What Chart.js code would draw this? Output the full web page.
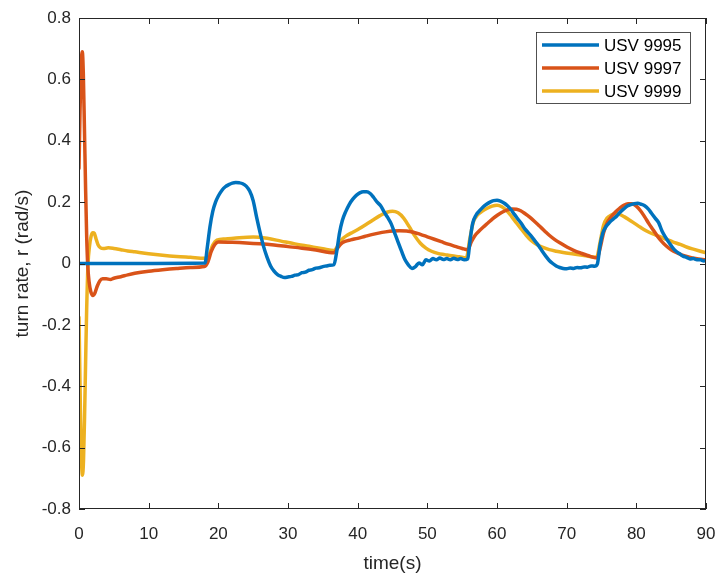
<!DOCTYPE html>
<html>
<head>
<meta charset="utf-8">
<title>turn rate</title>
<script src="https://cdn.jsdelivr.net/npm/chart.js@4.4.1/dist/chart.umd.min.js"></script>
<style>
  html, body { margin: 0; padding: 0; background: #fff; }
  #wrap { width: 717px; height: 575px; }
</style>
</head>
<body>
<div id="wrap"><canvas id="turnChart" width="717" height="575"></canvas></div>
<script>
// --- Data ---
const seriesNames = ['USV 9995', 'USV 9997', 'USV 9999'];
const seriesColors = ['#0072BD', '#D95319', '#EDB120'];
const xTicks = [0, 10, 20, 30, 40, 50, 60, 70, 80, 90];
const yTicks = [-0.8, -0.6, -0.4, -0.2, 0, 0.2, 0.4, 0.6, 0.8];

const time9995 = [
  0, 18.1, 18.4, 18.8, 19.2, 19.6, 20, 20.5, 21, 21.5,
  22, 22.5, 23, 23.5, 24, 24.5, 25, 25.5, 26, 26.5,
  27, 27.5, 28, 28.5, 29, 29.5, 30, 30.5, 31, 31.5,
  32, 32.5, 33, 33.5, 34, 34.5, 35, 35.5, 36, 36.6,
  37, 37.4, 37.8, 38.3, 38.8, 39.3, 39.8, 40.3, 40.8, 41.3,
  41.8, 42.3, 42.8, 43.3, 43.8, 44.3, 44.8, 45.3, 45.8, 46.3,
  46.8, 47.3, 47.8, 48.3, 48.8, 49.3, 49.8, 50.3, 50.8, 51.3,
  51.8, 52.3, 52.8, 53.3, 53.8, 54.3, 54.8, 55.3, 55.8, 56.1,
  56.5, 57, 57.5, 58, 58.5, 59, 59.5, 60, 60.5, 61,
  61.5, 62, 62.5, 63, 63.5, 64, 64.5, 65, 65.5, 66,
  66.5, 67, 67.5, 68, 68.5, 69, 69.5, 70, 70.5, 71,
  71.5, 72, 72.5, 73, 73.5, 74, 74.4, 74.8, 75.2, 75.7,
  76.2, 76.7, 77.2, 77.7, 78.2, 78.7, 79.2, 79.7, 80.2, 80.7,
  81.2, 81.7, 82.2, 82.7, 83.2, 83.7, 84.2, 84.7, 85.2, 85.7,
  86.2, 86.7, 87.2, 87.7, 88.2, 88.7, 89.2, 89.7, 90
];
const rate9995 = [
  0, 0.002, 0.05, 0.12, 0.17, 0.2, 0.22, 0.238, 0.25, 0.257,
  0.262, 0.264, 0.263, 0.26, 0.252, 0.236, 0.205, 0.15, 0.1, 0.055,
  0.02, -0.008, -0.025, -0.036, -0.042, -0.046, -0.044, -0.042, -0.038, -0.036,
  -0.03, -0.028, -0.022, -0.02, -0.015, -0.014, -0.01, -0.008, -0.006, -0.004,
  0.04, 0.1, 0.14, 0.17, 0.193, 0.21, 0.222, 0.23, 0.234, 0.234,
  0.228, 0.215, 0.2, 0.188, 0.168, 0.15, 0.13, 0.1, 0.07, 0.04,
  0.012, -0.005, -0.016, -0.01, 0.002, -0.004, 0.012, 0.008, 0.016, 0.012,
  0.018, 0.013, 0.016, 0.012, 0.017, 0.013, 0.016, 0.012, 0.015, 0.07,
  0.13, 0.158, 0.172, 0.184, 0.193, 0.2, 0.205, 0.206, 0.203, 0.197,
  0.188, 0.176, 0.16, 0.145, 0.13, 0.113, 0.1, 0.087, 0.072, 0.057,
  0.04, 0.024, 0.01, 0.0, -0.008, -0.013, -0.016, -0.017, -0.015, -0.016,
  -0.013, -0.014, -0.011, -0.012, -0.008, -0.009, -0.002, 0.06, 0.1, 0.122,
  0.135, 0.145, 0.155, 0.168, 0.178, 0.187, 0.192, 0.195, 0.196, 0.193,
  0.188, 0.178, 0.163, 0.148, 0.133, 0.105, 0.085, 0.068, 0.052, 0.04,
  0.032, 0.024, 0.02, 0.015, 0.016, 0.012, 0.012, 0.008, 0.01
];

const time9997 = [
  0, 0.15, 0.3, 0.47, 0.62, 0.78, 0.95, 1.1, 1.25, 1.45,
  1.7, 2.0, 2.3, 2.6, 3.0, 3.4, 3.9, 4.5, 5, 6,
  7, 8, 10, 12, 14, 16, 18, 18.5, 19, 19.5,
  20, 22, 24, 26, 28, 30, 32, 34, 36.6, 37.1,
  37.6, 38.2, 39, 40, 41, 42, 43, 44, 45, 46,
  47, 48, 49, 50, 51, 52, 53, 54, 55, 55.8,
  56.3, 56.8, 57.4, 58, 58.7, 59.4, 60.1, 60.8, 61.5, 62.2,
  62.8, 63.4, 64, 64.7, 65.4, 66.1, 66.8, 67.5, 68.3, 69.2,
  70.1, 71, 72, 73, 74.4, 74.8, 75.3, 75.8, 76.4, 77,
  77.6, 78.2, 78.8, 79.4, 80, 80.6, 81.2, 81.8, 82.4, 83,
  83.6, 84.3, 85, 85.8, 86.6, 87.5, 88.5, 90
];
const rate9997 = [
  0.31, 0.5, 0.64, 0.69, 0.62, 0.44, 0.24, 0.09, -0.005, -0.06,
  -0.092, -0.104, -0.095, -0.075, -0.056, -0.05, -0.05, -0.052, -0.048, -0.043,
  -0.037, -0.032, -0.025, -0.02, -0.016, -0.013, -0.01, 0.005, 0.04, 0.062,
  0.07, 0.069, 0.067, 0.064, 0.06, 0.055, 0.05, 0.044, 0.035, 0.05,
  0.064, 0.072, 0.077, 0.082, 0.088, 0.094, 0.099, 0.103, 0.106, 0.107,
  0.106, 0.102, 0.095, 0.087, 0.079, 0.071, 0.063, 0.056, 0.049, 0.045,
  0.07, 0.09, 0.105, 0.118, 0.132, 0.146, 0.158, 0.168, 0.175, 0.178,
  0.177, 0.172, 0.163, 0.151, 0.137, 0.122, 0.107, 0.092, 0.078, 0.065,
  0.053, 0.043, 0.034, 0.026, 0.018, 0.05, 0.1, 0.132, 0.152, 0.168,
  0.18, 0.19, 0.195, 0.195, 0.187, 0.172, 0.152, 0.13, 0.11, 0.09,
  0.073, 0.057, 0.045, 0.035, 0.027, 0.021, 0.016, 0.012
];

const time9999 = [
  0, 0.15, 0.3, 0.5, 0.65, 0.8, 0.95, 1.1, 1.3, 1.5,
  1.75, 2.0, 2.2, 2.45, 2.75, 3.1, 3.5, 4.2, 5, 6,
  7, 8, 10, 12, 14, 16, 18, 18.6, 19.2, 19.8,
  21, 23, 25, 27, 29, 31, 33, 35, 36.6, 37.2,
  37.8, 38.5, 39.3, 40.2, 41.2, 42.2, 43.2, 44.2, 45, 45.8,
  46.6, 47.4, 48.2, 49, 49.8, 50.6, 51.5, 52.5, 53.5, 54.6,
  55.6, 56.1, 56.6, 57.2, 57.9, 58.6, 59.3, 60, 60.7, 61.4,
  62.1, 62.8, 63.5, 64.2, 64.9, 65.7, 66.5, 67.5, 68.5, 69.5,
  71, 72.5, 74.3, 74.8, 75.3, 75.8, 76.4, 77, 77.6, 78.3,
  79, 79.8, 80.6, 81.4, 82.3, 83.3, 84.3, 85.3, 86.3, 87.3,
  88.3, 89.2, 90
];
const rate9999 = [
  -0.175, -0.4, -0.6, -0.69, -0.64, -0.5, -0.32, -0.15, 0.0, 0.055,
  0.09, 0.1, 0.098, 0.08, 0.06, 0.051, 0.049, 0.051, 0.049, 0.045,
  0.041, 0.038, 0.032, 0.027, 0.023, 0.02, 0.017, 0.025, 0.06, 0.076,
  0.08, 0.084, 0.086, 0.082, 0.073, 0.064, 0.056, 0.048, 0.042, 0.06,
  0.08, 0.092, 0.102, 0.113, 0.127, 0.142, 0.156, 0.167, 0.17, 0.165,
  0.148, 0.12, 0.09, 0.066, 0.05, 0.04, 0.033, 0.029, 0.025, 0.022,
  0.019, 0.08, 0.135, 0.158, 0.171, 0.18, 0.187, 0.19, 0.185, 0.172,
  0.153, 0.132, 0.112, 0.092, 0.075, 0.062, 0.053, 0.045, 0.04, 0.036,
  0.031, 0.026, 0.02, 0.07, 0.125, 0.148, 0.158, 0.163, 0.16, 0.152,
  0.142, 0.13, 0.118, 0.107, 0.097, 0.088, 0.079, 0.07, 0.062, 0.053,
  0.046, 0.04, 0.035
];

const axisColor = '#262626';
const fontFamily = '"Liberation Sans", Arial, Helvetica, sans-serif';

function toPoints(times, values) {
    return times.map((t, i) => ({ x: t, y: values[i] }));
}

const seriesData = [
    toPoints(time9995, rate9995),
    toPoints(time9997, rate9997),
    toPoints(time9999, rate9999)
];

// --- Box, inward ticks and the legend (drawn like the MATLAB figure) ---
const framePlugin = {
    id: 'frame',
    afterDatasetsDraw(chart) {
        const { ctx, chartArea: a, scales } = chart;
        const tickLen = 6;
        ctx.save();
        ctx.strokeStyle = axisColor;
        ctx.lineWidth = 1;
        ctx.strokeRect(a.left + 0.5, a.top + 0.5, a.right - a.left - 1, a.bottom - a.top - 1);

        ctx.beginPath();
        xTicks.forEach(v => {
            const px = Math.round(scales.x.getPixelForValue(v)) + 0.5;
            ctx.moveTo(px, a.bottom);
            ctx.lineTo(px, a.bottom - tickLen);
            ctx.moveTo(px, a.top);
            ctx.lineTo(px, a.top + tickLen);
        });
        yTicks.forEach(v => {
            const py = Math.round(scales.y.getPixelForValue(v)) + 0.5;
            ctx.moveTo(a.left, py);
            ctx.lineTo(a.left + tickLen, py);
            ctx.moveTo(a.right, py);
            ctx.lineTo(a.right - tickLen, py);
        });
        ctx.stroke();

        // legend box, top-right inside the axes
        const boxW = 154, boxH = 71;
        const boxX = a.right - 170, boxY = a.top + 14;
        ctx.fillStyle = '#ffffff';
        ctx.fillRect(boxX, boxY, boxW, boxH);
        ctx.strokeStyle = '#262626';
        ctx.lineWidth = 0.8;
        ctx.strokeRect(boxX + 0.5, boxY + 0.5, boxW, boxH);

        ctx.font = '17px ' + fontFamily;
        ctx.textAlign = 'left';
        ctx.textBaseline = 'middle';
        chart.data.datasets.forEach((ds, i) => {
            const rowY = boxY + 13 + i * 23;
            ctx.strokeStyle = ds.borderColor;
            ctx.lineWidth = 3.5;
            ctx.beginPath();
            ctx.moveTo(boxX + 6, rowY);
            ctx.lineTo(boxX + 63, rowY);
            ctx.stroke();
            ctx.fillStyle = '#000000';
            ctx.fillText(ds.label, boxX + 68, rowY + 1);
        });
        ctx.restore();
    }
};

Chart.defaults.font.family = fontFamily;
Chart.defaults.color = axisColor;

const ctx = document.getElementById('turnChart');
new Chart(ctx, {
    type: 'line',
    data: {
        datasets: seriesNames.map((name, i) => ({
            label: name,
            data: seriesData[i],
            borderColor: seriesColors[i],
            backgroundColor: seriesColors[i],
            borderWidth: 3.5,
            pointRadius: 0,
            fill: false,
            cubicInterpolationMode: 'monotone',
            borderJoinStyle: 'round',
            borderCapStyle: 'round'
        }))
    },
    options: {
        responsive: false,
        animation: false,
        devicePixelRatio: 1,
        layout: {
            padding: { left: 0, top: 18, right: 11, bottom: 0 }
        },
        plugins: {
            legend: { display: false },
            tooltip: { enabled: false }
        },
        scales: {
            x: {
                type: 'linear',
                min: 0,
                max: 90,
                afterFit: scale => {
                    scale.height = 66;
                    scale.paddingLeft = 0;
                    scale.paddingRight = 0;
                },
                afterBuildTicks: scale => { scale.ticks = xTicks.map(v => ({ value: v })); },
                grid: { display: false, drawTicks: false },
                border: { display: false },
                ticks: {
                    font: { size: 17 },
                    color: axisColor,
                    padding: 15,
                    maxRotation: 0,
                    autoSkip: false
                },
                title: {
                    display: true,
                    text: 'time(s)',
                    font: { size: 19 },
                    color: axisColor,
                    padding: { top: 0, bottom: 0 }
                }
            },
            y: {
                type: 'linear',
                min: -0.8,
                max: 0.8,
                afterFit: scale => {
                    scale.width = 79;
                    scale.paddingTop = 0;
                    scale.paddingBottom = 0;
                },
                afterBuildTicks: scale => { scale.ticks = yTicks.map(v => ({ value: v })); },
                grid: { display: false, drawTicks: false },
                border: { display: false },
                ticks: {
                    font: { size: 17 },
                    color: axisColor,
                    padding: 8,
                    autoSkip: false,
                    callback: v => String(Math.round(v * 10) / 10)
                },
                title: {
                    display: true,
                    text: 'turn rate, r (rad/s)',
                    font: { size: 19 },
                    color: axisColor,
                    padding: { top: 11, bottom: 0 }
                }
            }
        }
    },
    plugins: [framePlugin]
});
</script>
</body>
</html>
